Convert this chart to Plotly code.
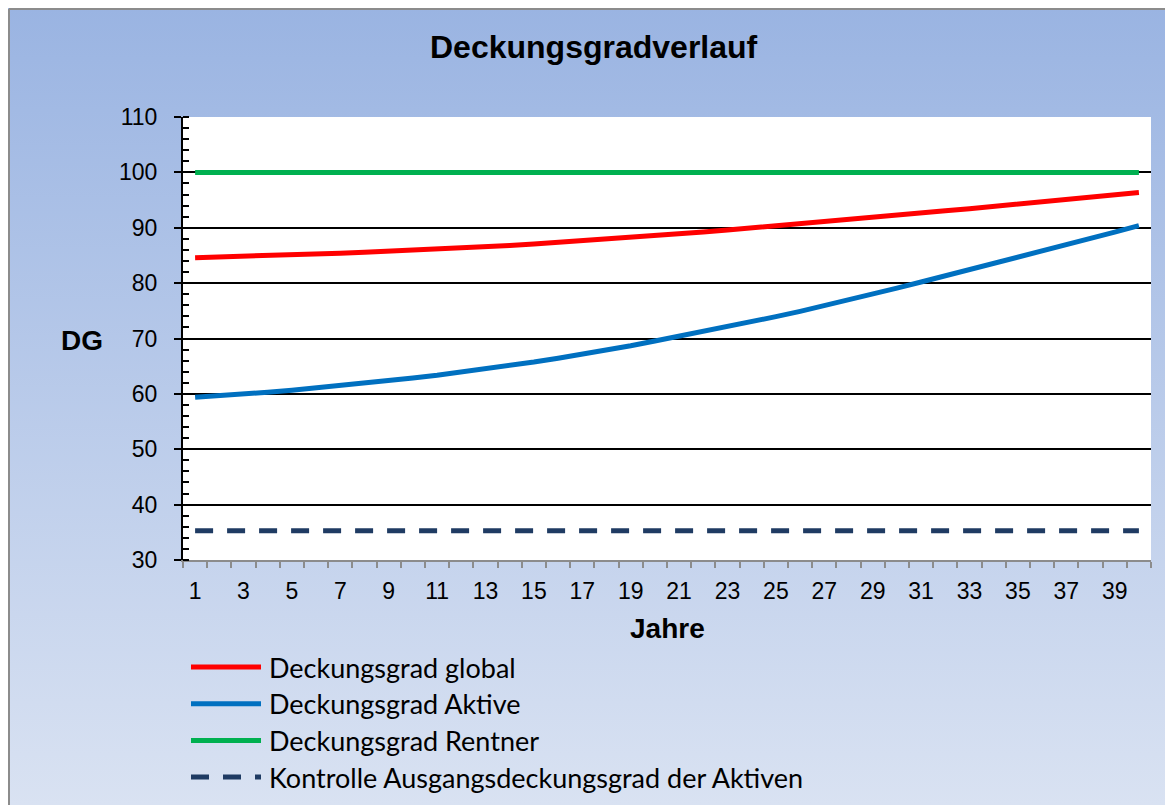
import base64
import plotly.graph_objects as go

jahre = list(range(1, 41))

dg_global = [84.6, 84.7, 84.82, 84.95, 85.09, 85.24, 85.4, 85.57, 85.75, 85.94,
             86.14, 86.35, 86.57, 86.8, 87.07, 87.35, 87.64, 87.94, 88.25, 88.57,
             88.9, 89.24, 89.59, 89.95, 90.32, 90.7, 91.09, 91.47, 91.86, 92.25,
             92.65, 93.05, 93.45, 93.86, 94.27, 94.68, 95.1, 95.52, 95.94, 96.36]

dg_aktive = [59.4, 59.65, 59.95, 60.3, 60.65, 61.05, 61.45, 61.9, 62.35, 62.85,
             63.35, 63.9, 64.5, 65.1, 65.75, 66.45, 67.15, 67.9, 68.7, 69.55,
             70.4, 71.25, 72.15, 73.05, 73.95, 74.9, 75.9, 76.95, 78.0, 79.1,
             80.2, 81.3, 82.4, 83.5, 84.6, 85.75, 86.9, 88.05, 89.2, 90.4]

dg_rentner = [100, 100, 100, 100, 100, 100, 100, 100, 100, 100,
              100, 100, 100, 100, 100, 100, 100, 100, 100, 100,
              100, 100, 100, 100, 100, 100, 100, 100, 100, 100,
              100, 100, 100, 100, 100, 100, 100, 100, 100, 100]

dg_kontrolle = [35.3, 35.3, 35.3, 35.3, 35.3, 35.3, 35.3, 35.3, 35.3, 35.3,
                35.3, 35.3, 35.3, 35.3, 35.3, 35.3, 35.3, 35.3, 35.3, 35.3,
                35.3, 35.3, 35.3, 35.3, 35.3, 35.3, 35.3, 35.3, 35.3, 35.3,
                35.3, 35.3, 35.3, 35.3, 35.3, 35.3, 35.3, 35.3, 35.3, 35.3]

namen = ["Deckungsgrad global", "Deckungsgrad Aktive", "Deckungsgrad Rentner",
         "Kontrolle Ausgangsdeckungsgrad der Aktiven"]
farben = ["#FF0000", "#0070C0", "#00B050", "#1F3B63"]
striche = ["solid", "solid", "solid", "18px,14px"]

# page body has an 8px margin, so the figure starts at (8, 8) of the window
OFF = 8
W, H = 1165, 797
L, R, T, B = 175, 22, 109, 245
pw, ph = W - L - R, H - T - B


def px(x):
    # window pixel -> paper x
    return (x - OFF - L) / pw


def py(y):
    # window pixel -> paper y
    return (H - B - (y - OFF)) / ph


fig = go.Figure()
for name, ys, col, dash in zip(namen, [dg_global, dg_aktive, dg_rentner, dg_kontrolle], farben, striche):
    fig.add_trace(go.Scatter(x=jahre, y=ys, name=name, mode="lines",
                             line=dict(color=col, width=5, dash=dash), showlegend=False))

# background gradient as svg image
svg = ('<svg xmlns="http://www.w3.org/2000/svg" width="100" height="100" preserveAspectRatio="none">'
       '<defs><linearGradient id="g" x1="0" y1="0" x2="0" y2="1">'
       '<stop offset="0" stop-color="#9AB4E2"/><stop offset="1" stop-color="#D9E2F2"/>'
       '</linearGradient></defs><rect width="100" height="100" fill="url(#g)"/></svg>')
src = "data:image/svg+xml;base64," + base64.b64encode(svg.encode()).decode()
fig.add_layout_image(source=src, xref="paper", yref="paper", x=px(OFF), y=py(OFF),
                     sizex=W / pw, sizey=H / ph, sizing="stretch",
                     xanchor="left", yanchor="top", layer="below")

shapes = [
    dict(type="rect", xref="paper", yref="paper", x0=0, x1=1, y0=0, y1=1,
         fillcolor="white", line_width=0, layer="below"),
    dict(type="line", xref="paper", yref="paper", x0=px(9), x1=px(9), y0=py(9), y1=py(OFF + H + 5),
         line=dict(color="#8C8C8C", width=2)),
    dict(type="line", xref="paper", yref="paper", x0=px(9), x1=px(OFF + W + 5), y0=py(9), y1=py(9),
         line=dict(color="#8C8C8C", width=2)),
]

# legend drawn by hand to get the long line samples
annotations = []
for i, (name, col, dash) in enumerate(zip(namen, farben, striche)):
    yy = 667 + i * 36.7
    shapes.append(dict(type="line", xref="paper", yref="paper", x0=px(191), x1=px(261),
                       y0=py(yy), y1=py(yy), line=dict(color=col, width=5, dash=dash)))
    annotations.append(dict(text=name, xref="paper", yref="paper", x=px(267), y=py(yy),
                            xanchor="left", yanchor="middle", showarrow=False,
                            font=dict(family="Lato", size=27, color="black")))

annotations.append(dict(text="<b>Deckungsgradverlauf</b>", xref="paper", yref="paper",
                        x=px(594), y=py(47), xanchor="center", yanchor="middle", showarrow=False,
                        font=dict(family="Liberation Sans", size=32, color="black")))
annotations.append(dict(text="<b>DG</b>", xref="paper", yref="paper", x=px(82), y=py(340),
                        xanchor="center", yanchor="middle", showarrow=False,
                        font=dict(family="Liberation Sans", size=28, color="black")))
annotations.append(dict(text="<b>Jahre</b>", xref="paper", yref="paper", x=px(667), y=py(628),
                        xanchor="center", yanchor="middle", showarrow=False,
                        font=dict(family="Liberation Sans", size=28, color="black")))

fig.update_layout(
    width=W, height=H, margin=dict(l=L, r=R, t=T, b=B),
    paper_bgcolor="white", plot_bgcolor="white",
    shapes=shapes, annotations=annotations,
    font=dict(family="Liberation Sans", size=23, color="black"),
)
fig.update_xaxes(range=[0.5, 40.5], tick0=1, dtick=2, ticks="", showgrid=False, zeroline=False,
                 showline=True, linecolor="#8C8C8C", linewidth=2, ticklabelstandoff=9,
                 minor=dict(ticks="outside", tick0=0.5, dtick=1, ticklen=6, tickwidth=2,
                            tickcolor="#8C8C8C", showgrid=False))
fig.update_yaxes(range=[30, 110], dtick=10, showgrid=True, gridcolor="black", gridwidth=2,
                 zeroline=False, showline=True, linecolor="black", linewidth=2,
                 ticks="outside", ticklen=7, tickwidth=2, tickcolor="black", ticklabelstandoff=12,
                 minor=dict(ticks="inside", dtick=2, ticklen=6, tickwidth=2, tickcolor="black",
                            showgrid=False))

fig.write_html("out.html")
